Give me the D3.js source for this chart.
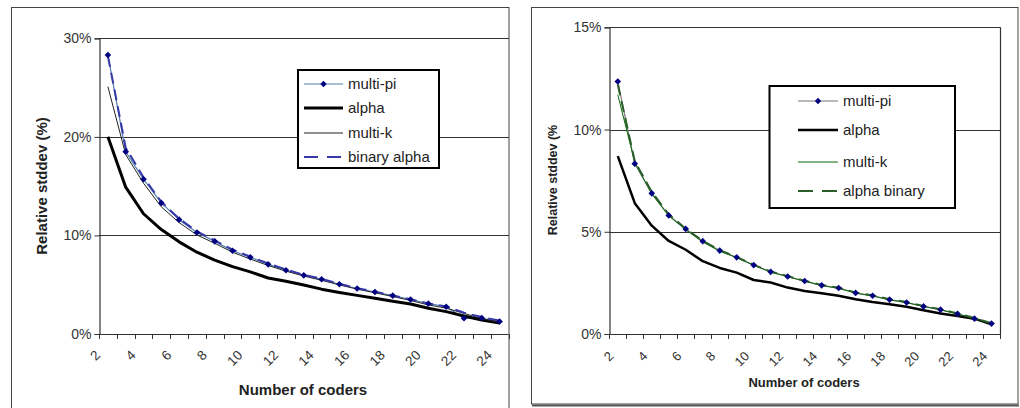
<!DOCTYPE html>
<html>
<head>
<meta charset="utf-8">
<script src="https://cdn.jsdelivr.net/npm/d3@7"></script>
<style>
  html, body { margin: 0; padding: 0; background: #fff; }
  svg { display: block; font-family: "Liberation Sans", Arial, sans-serif; }
</style>
</head>
<body>
<svg id="chart" width="1020" height="408"></svg>
<script>
// Number of coders (category axis)
const coders = d3.range(2, 25);
const coderTickLabels = coders.filter(d => d % 2 === 0);

// Left panel: relative stddev (%) per method
const leftMultiPi      = [28.3, 18.5, 15.7, 13.3, 11.6, 10.3, 9.4, 8.45, 7.78, 7.07, 6.47, 5.95, 5.55, 5.05, 4.62, 4.26, 3.89, 3.5, 3.08, 2.77, 1.6, 1.62, 1.27];
const leftAlpha        = [20.0, 14.9, 12.2, 10.6, 9.35, 8.3, 7.5, 6.83, 6.3, 5.68, 5.35, 4.97, 4.55, 4.22, 3.92, 3.62, 3.33, 3.04, 2.62, 2.27, 1.83, 1.42, 1.12];
const leftMultiK       = [25.1, 18.2, 15.3, 12.9, 11.3, 10.05, 9.2, 8.3, 7.6, 6.95, 6.38, 5.88, 5.45, 4.98, 4.55, 4.18, 3.8, 3.4, 2.95, 2.62, 2.1, 1.55, 1.2];
const leftBinaryAlpha  = [28.2, 18.9, 15.9, 13.4, 11.7, 10.4, 9.5, 8.55, 7.85, 7.15, 6.55, 6.0, 5.6, 5.1, 4.65, 4.3, 3.92, 3.52, 3.1, 2.8, 2.15, 1.72, 1.35];
const leftYTicks = [0, 10, 20, 30];

// Right panel: relative stddev (%) per method
const rightMultiPi     = [12.35, 8.33, 6.88, 5.8, 5.14, 4.54, 4.08, 3.75, 3.37, 3.04, 2.81, 2.59, 2.38, 2.25, 2.01, 1.87, 1.68, 1.54, 1.35, 1.19, 0.99, 0.75, 0.51];
const rightAlpha       = [8.7, 6.4, 5.3, 4.55, 4.12, 3.56, 3.23, 3.0, 2.64, 2.52, 2.27, 2.1, 1.99, 1.87, 1.7, 1.56, 1.45, 1.33, 1.16, 1.0, 0.88, 0.75, 0.47];
const rightMultiK      = [11.7, 8.4, 6.85, 5.78, 5.1, 4.5, 4.05, 3.73, 3.36, 3.03, 2.8, 2.58, 2.37, 2.23, 2.0, 1.86, 1.67, 1.53, 1.35, 1.18, 0.98, 0.76, 0.5];
const rightAlphaBinary = [12.2, 8.45, 6.95, 5.85, 5.15, 4.55, 4.1, 3.76, 3.38, 3.06, 2.83, 2.6, 2.4, 2.26, 2.03, 1.89, 1.7, 1.56, 1.37, 1.21, 1.01, 0.78, 0.53];
const rightYTicks = [0, 5, 10, 15];

const svg = d3.select("#chart");

// Panel frames
svg.append("rect").attr("x", 11.5).attr("y", 7.5).attr("width", 497.5).attr("height", 430)
  .attr("fill", "none").attr("stroke", "#444").attr("stroke-width", 1);
svg.append("rect").attr("x", 531.5).attr("y", 7.5).attr("width", 486.5).attr("height", 396.5)
  .attr("fill", "none").attr("stroke", "#444").attr("stroke-width", 1);
svg.append("line").attr("x1", 532).attr("x2", 1019).attr("y1", 405.5).attr("y2", 405.5)
  .attr("stroke", "#555").attr("stroke-width", 2);

function drawPanel(p) {
  const g = svg.append("g");
  const x = d3.scaleBand().domain(coders).range([p.left, p.right]).padding(0);
  const y = d3.scaleLinear().domain([0, p.yMax]).range([p.bottom, p.top]);
  const cx = d => x(d) + x.bandwidth() / 2;

  // horizontal gridlines
  g.selectAll(".grid").data(p.yTicks.filter(v => v > 0)).join("line")
    .attr("x1", p.left).attr("x2", p.gridEnd)
    .attr("y1", d => Math.round(y(d)) + 0.5).attr("y2", d => Math.round(y(d)) + 0.5)
    .attr("stroke", "#333").attr("stroke-width", 1.2);

  if (p.plotBorder) {
    g.append("line").attr("x1", p.right + 0.5).attr("x2", p.right + 0.5)
      .attr("y1", p.top).attr("y2", p.bottom).attr("stroke", "#333").attr("stroke-width", 1.2);
  }

  // y axis
  const yAxis = d3.axisLeft(y).tickValues(p.yTicks).tickSize(5).tickFormat(d => d + "%");
  const ya = g.append("g").attr("transform", `translate(${Math.round(p.left) + 0.5},0)`).call(yAxis);
  ya.select(".domain").attr("stroke", "#333").attr("stroke-width", 1.2);
  ya.selectAll(".tick line").attr("stroke", "#333");
  ya.selectAll(".tick text").attr("font-size", p.yTickFont).attr("fill", "#333")
    .attr("font-family", "Liberation Sans, Arial, sans-serif").attr("x", -8);

  // x axis: ticks between categories
  const xa = g.append("g");
  xa.append("line").attr("x1", p.left).attr("x2", p.right)
    .attr("y1", Math.round(p.bottom) + 0.5).attr("y2", Math.round(p.bottom) + 0.5)
    .attr("stroke", "#333").attr("stroke-width", 1.2);
  const tickPos = coders.map(d => x(d)).concat([p.right]);
  xa.selectAll(".xt").data(tickPos).join("line")
    .attr("x1", d => Math.round(d) + 0.5).attr("x2", d => Math.round(d) + 0.5)
    .attr("y1", p.bottom).attr("y2", p.bottom + 5).attr("stroke", "#333");
  xa.selectAll(".xl").data(coderTickLabels).join("text")
    .attr("transform", d => `translate(${x(d) + p.xLabelDx},${p.xLabelY}) rotate(-45)`)
    .attr("text-anchor", "end").attr("font-size", p.xTickFont).attr("fill", "#333")
    .text(d => d);

  // axis titles
  g.append("text").attr("x", p.xTitle[0]).attr("y", p.xTitle[1])
    .attr("text-anchor", "middle").attr("font-weight", "bold").attr("font-size", p.xTitleFont)
    .attr("fill", "#222").text("Number of coders");
  g.append("text").attr("transform", `translate(${p.yTitle[0]},${p.yTitle[1]}) rotate(-90)`)
    .attr("text-anchor", "middle").attr("font-weight", "bold").attr("font-size", p.yTitleFont)
    .attr("fill", "#222").text(p.yTitleText);

  // series lines
  const line = d3.line().x((v, i) => cx(coders[i])).y(v => y(v));
  p.series.forEach(s => {
    g.append("path").datum(s.values).attr("d", line)
      .attr("fill", "none").attr("stroke", s.color).attr("stroke-width", s.width)
      .attr("stroke-dasharray", s.dash || null).attr("stroke-linejoin", "round");
  });
  // diamond markers
  p.series.filter(s => s.marker).forEach(s => {
    g.selectAll(null).data(s.values).join("path")
      .attr("d", d3.symbol(d3.symbolDiamond2, 28))
      .attr("transform", (v, i) => `translate(${cx(coders[i])},${y(v)})`)
      .attr("fill", "#000080");
  });

  // legend
  const L = p.legend;
  g.append("rect").attr("x", L.x).attr("y", L.y).attr("width", L.w).attr("height", L.h)
    .attr("fill", "#fff").attr("stroke", "#000").attr("stroke-width", 2);
  p.series.forEach((s, i) => {
    const ly = L.rows[i];
    g.append("line").attr("x1", L.lineX[0]).attr("x2", L.lineX[1]).attr("y1", ly).attr("y2", ly)
      .attr("stroke", s.color).attr("stroke-width", s.width).attr("stroke-dasharray", s.legendDash || null);
    if (s.marker) {
      g.append("path").attr("d", d3.symbol(d3.symbolDiamond2, 26))
        .attr("transform", `translate(${(L.lineX[0] + L.lineX[1]) / 2},${ly})`).attr("fill", "#000080");
    }
    g.append("text").attr("x", L.textX).attr("y", ly + 5).attr("font-size", L.font)
      .attr("fill", "#222").text(s.name);
  });
}

drawPanel({
  left: 99, right: 508.5, gridEnd: 509, top: 38.3, bottom: 334, yMax: 30, yTicks: leftYTicks,
  plotBorder: false,
  yTickFont: 14, xTickFont: 13.5, xLabelDx: 2, xLabelY: 356,
  xTitle: [303, 395], xTitleFont: 15,
  yTitle: [47, 186], yTitleFont: 15, yTitleText: "Relative stddev (%)",
  series: [
    { name: "multi-pi", values: leftMultiPi, color: "#4f7fb0", width: 1.2, marker: true },
    { name: "alpha", values: leftAlpha, color: "#000", width: 3 },
    { name: "multi-k", values: leftMultiK, color: "#222", width: 1 },
    { name: "binary alpha", values: leftBinaryAlpha, color: "#3838a8", width: 2, dash: "11,6", legendDash: "14,9" }
  ],
  legend: { x: 298, y: 70, w: 141, h: 98, rows: [84, 108, 133, 157], lineX: [304, 343], textX: 348, font: 15 }
});

drawPanel({
  left: 609.3, right: 1000, gridEnd: 1000, top: 27.3, bottom: 334, yMax: 15, yTicks: rightYTicks,
  plotBorder: true,
  yTickFont: 14, xTickFont: 13, xLabelDx: 5, xLabelY: 357,
  xTitle: [804, 387], xTitleFont: 13,
  yTitle: [557, 180], yTitleFont: 12.5, yTitleText: "Relative stddev (%",
  series: [
    { name: "multi-pi", values: rightMultiPi, color: "#777", width: 1.2, marker: true },
    { name: "alpha", values: rightAlpha, color: "#000", width: 2.5 },
    { name: "multi-k", values: rightMultiK, color: "#0b6a0b", width: 1 },
    { name: "alpha binary", values: rightAlphaBinary, color: "#2a5e2a", width: 2, dash: "11,6", legendDash: "15,9" }
  ],
  legend: { x: 769.5, y: 86, w: 185.5, h: 122, rows: [101, 130, 162, 191], lineX: [798, 838], textX: 843, font: 15 }
});
</script>
</body>
</html>
